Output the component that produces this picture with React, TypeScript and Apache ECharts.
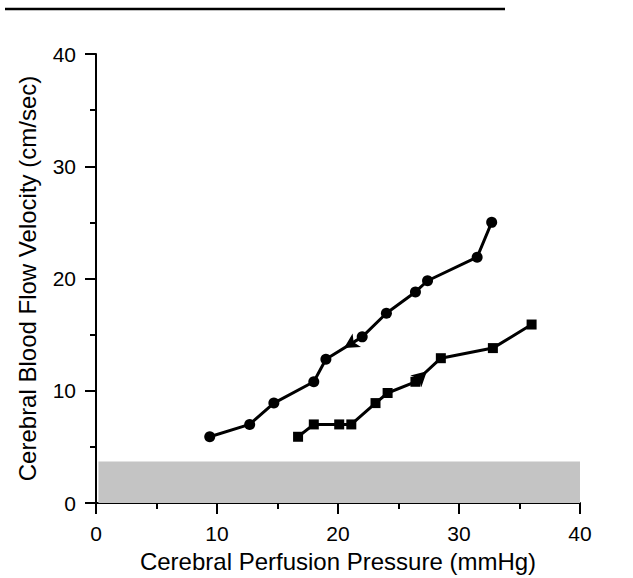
import React, { useEffect, useRef } from "react";
import * as echarts from "echarts";

const circleX = [9.4, 12.7, 14.7, 18.0, 19.0, 22.0, 24.0, 26.4, 27.4, 31.5, 32.7];
const circleY = [5.9, 7.0, 8.9, 10.8, 12.8, 14.8, 16.9, 18.8, 19.8, 21.9, 25.0];
const squareX = [16.7, 18.0, 20.1, 21.1, 23.1, 24.1, 26.4, 28.5, 32.8, 36.0];
const squareY = [5.9, 7.0, 7.0, 7.0, 8.9, 9.8, 10.8, 12.9, 13.8, 15.9];
const bandRange = [0.2, 40, 0, 3.7]; // xFrom, xTo, yFrom, yTo
const xTicks = [0, 10, 20, 30, 40];
const yTicks = [0, 10, 20, 30, 40];
const xName = "Cerebral Perfusion Pressure (mmHg)";
const yName = "Cerebral Blood Flow Velocity (cm/sec)";

const FONT = "'Liberation Sans', Arial, Helvetica, sans-serif";

export default function App() {
  const ref = useRef<HTMLDivElement>(null);
  useEffect(() => {
    if (!ref.current) return;
    const chart = echarts.init(ref.current, undefined, { renderer: "svg" });
    const circles = circleX.map((x, i) => [x, circleY[i]]);
    const squares = squareX.map((x, i) => [x, squareY[i]]);

    const axisCommon = {
      min: 0,
      max: 40,
      interval: 10,
      axisLine: { show: true, onZero: false, lineStyle: { color: "#000", width: 2 } },
      axisTick: { show: true, length: 11, lineStyle: { color: "#000", width: 2 } },
      minorTick: { show: true, splitNumber: 2, length: 6, lineStyle: { color: "#000", width: 2 } },
      splitLine: { show: false },
      axisLabel: { color: "#000", fontSize: 21, fontFamily: FONT },
      nameTextStyle: { color: "#000", fontSize: 24, fontFamily: FONT },
    };

    const buildOption = (arrowA: { coord: number[]; rot: number }, arrowB: { coord: number[]; rot: number }) => ({
      animation: false,
      backgroundColor: "#fff",
      grid: { left: 96, right: 53, top: 54, bottom: 75, containLabel: false },
      xAxis: {
        type: "value",
        ...axisCommon,
        axisLabel: { ...axisCommon.axisLabel, margin: 20, customValues: xTicks },
        name: xName,
        nameLocation: "middle",
        nameGap: 46,
      },
      yAxis: {
        type: "value",
        ...axisCommon,
        axisLabel: { ...axisCommon.axisLabel, margin: 20, customValues: yTicks },
        name: yName,
        nameLocation: "middle",
        nameGap: 57,
      },
      graphic: [
        {
          type: "line",
          shape: { x1: 5, y1: 9, x2: 505, y2: 9 },
          style: { stroke: "#000", lineWidth: 2.5 },
        },
      ],
      series: [
        {
          type: "line",
          data: circles,
          symbol: "circle",
          symbolSize: 11,
          lineStyle: { color: "#000", width: 3 },
          itemStyle: { color: "#000" },
          z: 5,
          markArea: {
            silent: true,
            itemStyle: { color: "#c4c4c4" },
            data: [[{ coord: [bandRange[0], bandRange[2]] }, { coord: [bandRange[1], bandRange[3]] }]],
          },
          markPoint: {
            symbol: "arrow",
            symbolSize: [12, 15],
            label: { show: false },
            itemStyle: { color: "#000" },
            data: [{ coord: arrowA.coord, symbolRotate: arrowA.rot }],
          },
        },
        {
          type: "line",
          data: squares,
          symbol: "rect",
          symbolSize: 10,
          lineStyle: { color: "#000", width: 3 },
          itemStyle: { color: "#000" },
          z: 5,
          markPoint: {
            symbol: "arrow",
            symbolSize: [12, 15],
            label: { show: false },
            itemStyle: { color: "#000" },
            data: [{ coord: arrowB.coord, symbolRotate: arrowB.rot }],
          },
        },
      ],
    });

    // Arrow placement along data segments
    const along = (pts: number[][], i: number, t: number, reverse: boolean) => {
      const a = pts[i];
      const b = pts[i + 1];
      const coord = [a[0] + (b[0] - a[0]) * t, a[1] + (b[1] - a[1]) * t];
      return { coord, from: reverse ? b : a, to: reverse ? a : b };
    };
    const A = along(circles, 4, 0.5, true);
    const B = along(squares, 6, 0.45, false);

    chart.setOption(buildOption({ coord: A.coord, rot: 0 }, { coord: B.coord, rot: 0 }));
    const angle = (from: number[], to: number[]) => {
      const p1 = chart.convertToPixel({ gridIndex: 0 }, from) as number[];
      const p2 = chart.convertToPixel({ gridIndex: 0 }, to) as number[];
      const ang = (Math.atan2(-(p2[1] - p1[1]), p2[0] - p1[0]) * 180) / Math.PI;
      return ang - 90;
    };
    chart.setOption(
      buildOption({ coord: A.coord, rot: angle(A.from, A.to) }, { coord: B.coord, rot: angle(B.from, B.to) })
    );

    return () => chart.dispose();
  }, []);

  return (
    <div
      ref={ref}
      style={{ position: "fixed", left: 0, top: 0, width: 633, height: 578, background: "#fff" }}
    />
  );
}
